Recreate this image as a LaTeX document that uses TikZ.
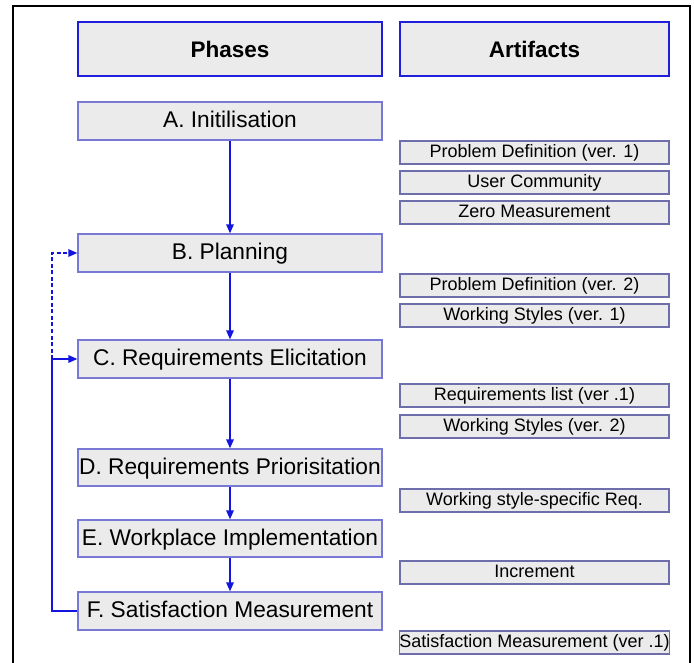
\documentclass[tikz,border=0pt]{standalone}
\usepackage{fontspec}
\setmainfont{Liberation Sans}
\usepackage{tikz}
\usetikzlibrary{arrows.meta}

\begin{document}
\begin{tikzpicture}[x=1pt,y=-1pt,line cap=rect,
		headbox/.style={draw=custcol_hd, line width=1.6pt, fill=custcol_fill, minimum height=54pt, inner sep=0, font=\fontsize{22.5pt}{22.5pt}\bfseries\selectfont},
		phasebox/.style={draw=custcol_bd, line width=1.2pt, fill=custcol_fill, minimum width=304pt, minimum height=38pt, inner sep=0, text depth=0.25em, font=\fontsize{22.7pt}{22.7pt}\selectfont},
		artbox/.style={draw=custcol_ab, line width=1.2pt, fill=custcol_fill, minimum width=269pt, minimum height=23pt, inner sep=0, text depth=0.22em, font=\fontsize{18pt}{18pt}\selectfont},
		flow/.style={line width=1.4pt, custcol_ar, -{Triangle[length=9pt,width=7.5pt]}, line cap=butt}]
					\definecolor{custcol_hd}{RGB}{30, 30, 220}
					\definecolor{custcol_bd}{RGB}{120, 120, 215}
					\definecolor{custcol_ab}{RGB}{110, 110, 170}
					\definecolor{custcol_fill}{RGB}{235, 235, 235}
					\definecolor{custcol_ar}{RGB}{20, 20, 225}
					\useasboundingbox (0,0) rectangle (694,663);
					% frame
					\draw [line width=2.2pt, black, line cap=butt] (13,663) -- (13,6) -- (690,6) -- (690,663);
					% headers
					\node[headbox, minimum width=304pt] (hPhases) at (230,49) {Phases};
					\node[headbox, minimum width=269pt] (hArtifacts) at (534.5,49) {Artifacts};
					% phases
					\node[phasebox] (phA) at (230,121) {A. Initilisation};
					\node[phasebox] (phB) at (230,253) {B. Planning};
					\node[phasebox] (phC) at (230,359) {C. Requirements Elicitation};
					\node[phasebox, minimum height=37pt] (phD) at (230,467.5) {D. Requirements Priorisitation};
					\node[phasebox, minimum height=37pt] (phE) at (230,538.5) {E. Workplace Implementation};
					\node[phasebox] (phF) at (230,611) {F. Satisfaction Measurement};
					% artifacts
					\node[artbox] (arProbA) at (534.5,152.5) {Problem Definition (ver. 1)};
					\node[artbox] (arUser) at (534.5,182.5) {User Community};
					\node[artbox] (arZero) at (534.5,212.5) {Zero Measurement};
					\node[artbox] (arProbB) at (534.5,285.5) {Problem Definition (ver. 2)};
					\node[artbox] (arStyleA) at (534.5,315.5) {Working Styles (ver. 1)};
					\node[artbox] (arReq) at (534.5,395.5) {Requirements list (ver .1)};
					\node[artbox] (arStyleB) at (534.5,426.5) {Working Styles (ver. 2)};
					\node[artbox] (arSpec) at (534.5,500.5) {Working style-specific Req.};
					\node[artbox] (arIncr) at (534.5,572.5) {Increment};
					\node[artbox] (arSat) at (534.5,642.5) {Satisfaction Measurement (ver .1)};
					% flow between phases
					\draw[flow] (phA.south) -- (phB.north);
					\draw[flow] (phB.south) -- (phC.north);
					\draw[flow] (phC.south) -- (phD.north);
					\draw[flow] (phD.south) -- (phE.north);
					\draw[flow] (phE.south) -- (phF.north);
					% feedback loop
					\coordinate (bend) at (52,359);
					\draw[flow] (phF.west) -| (bend) -- (phC.west);
					\draw[flow, dashed, dash pattern=on 4pt off 2.5pt] (bend) |- (phB.west);
				\end{tikzpicture}
\end{document}
